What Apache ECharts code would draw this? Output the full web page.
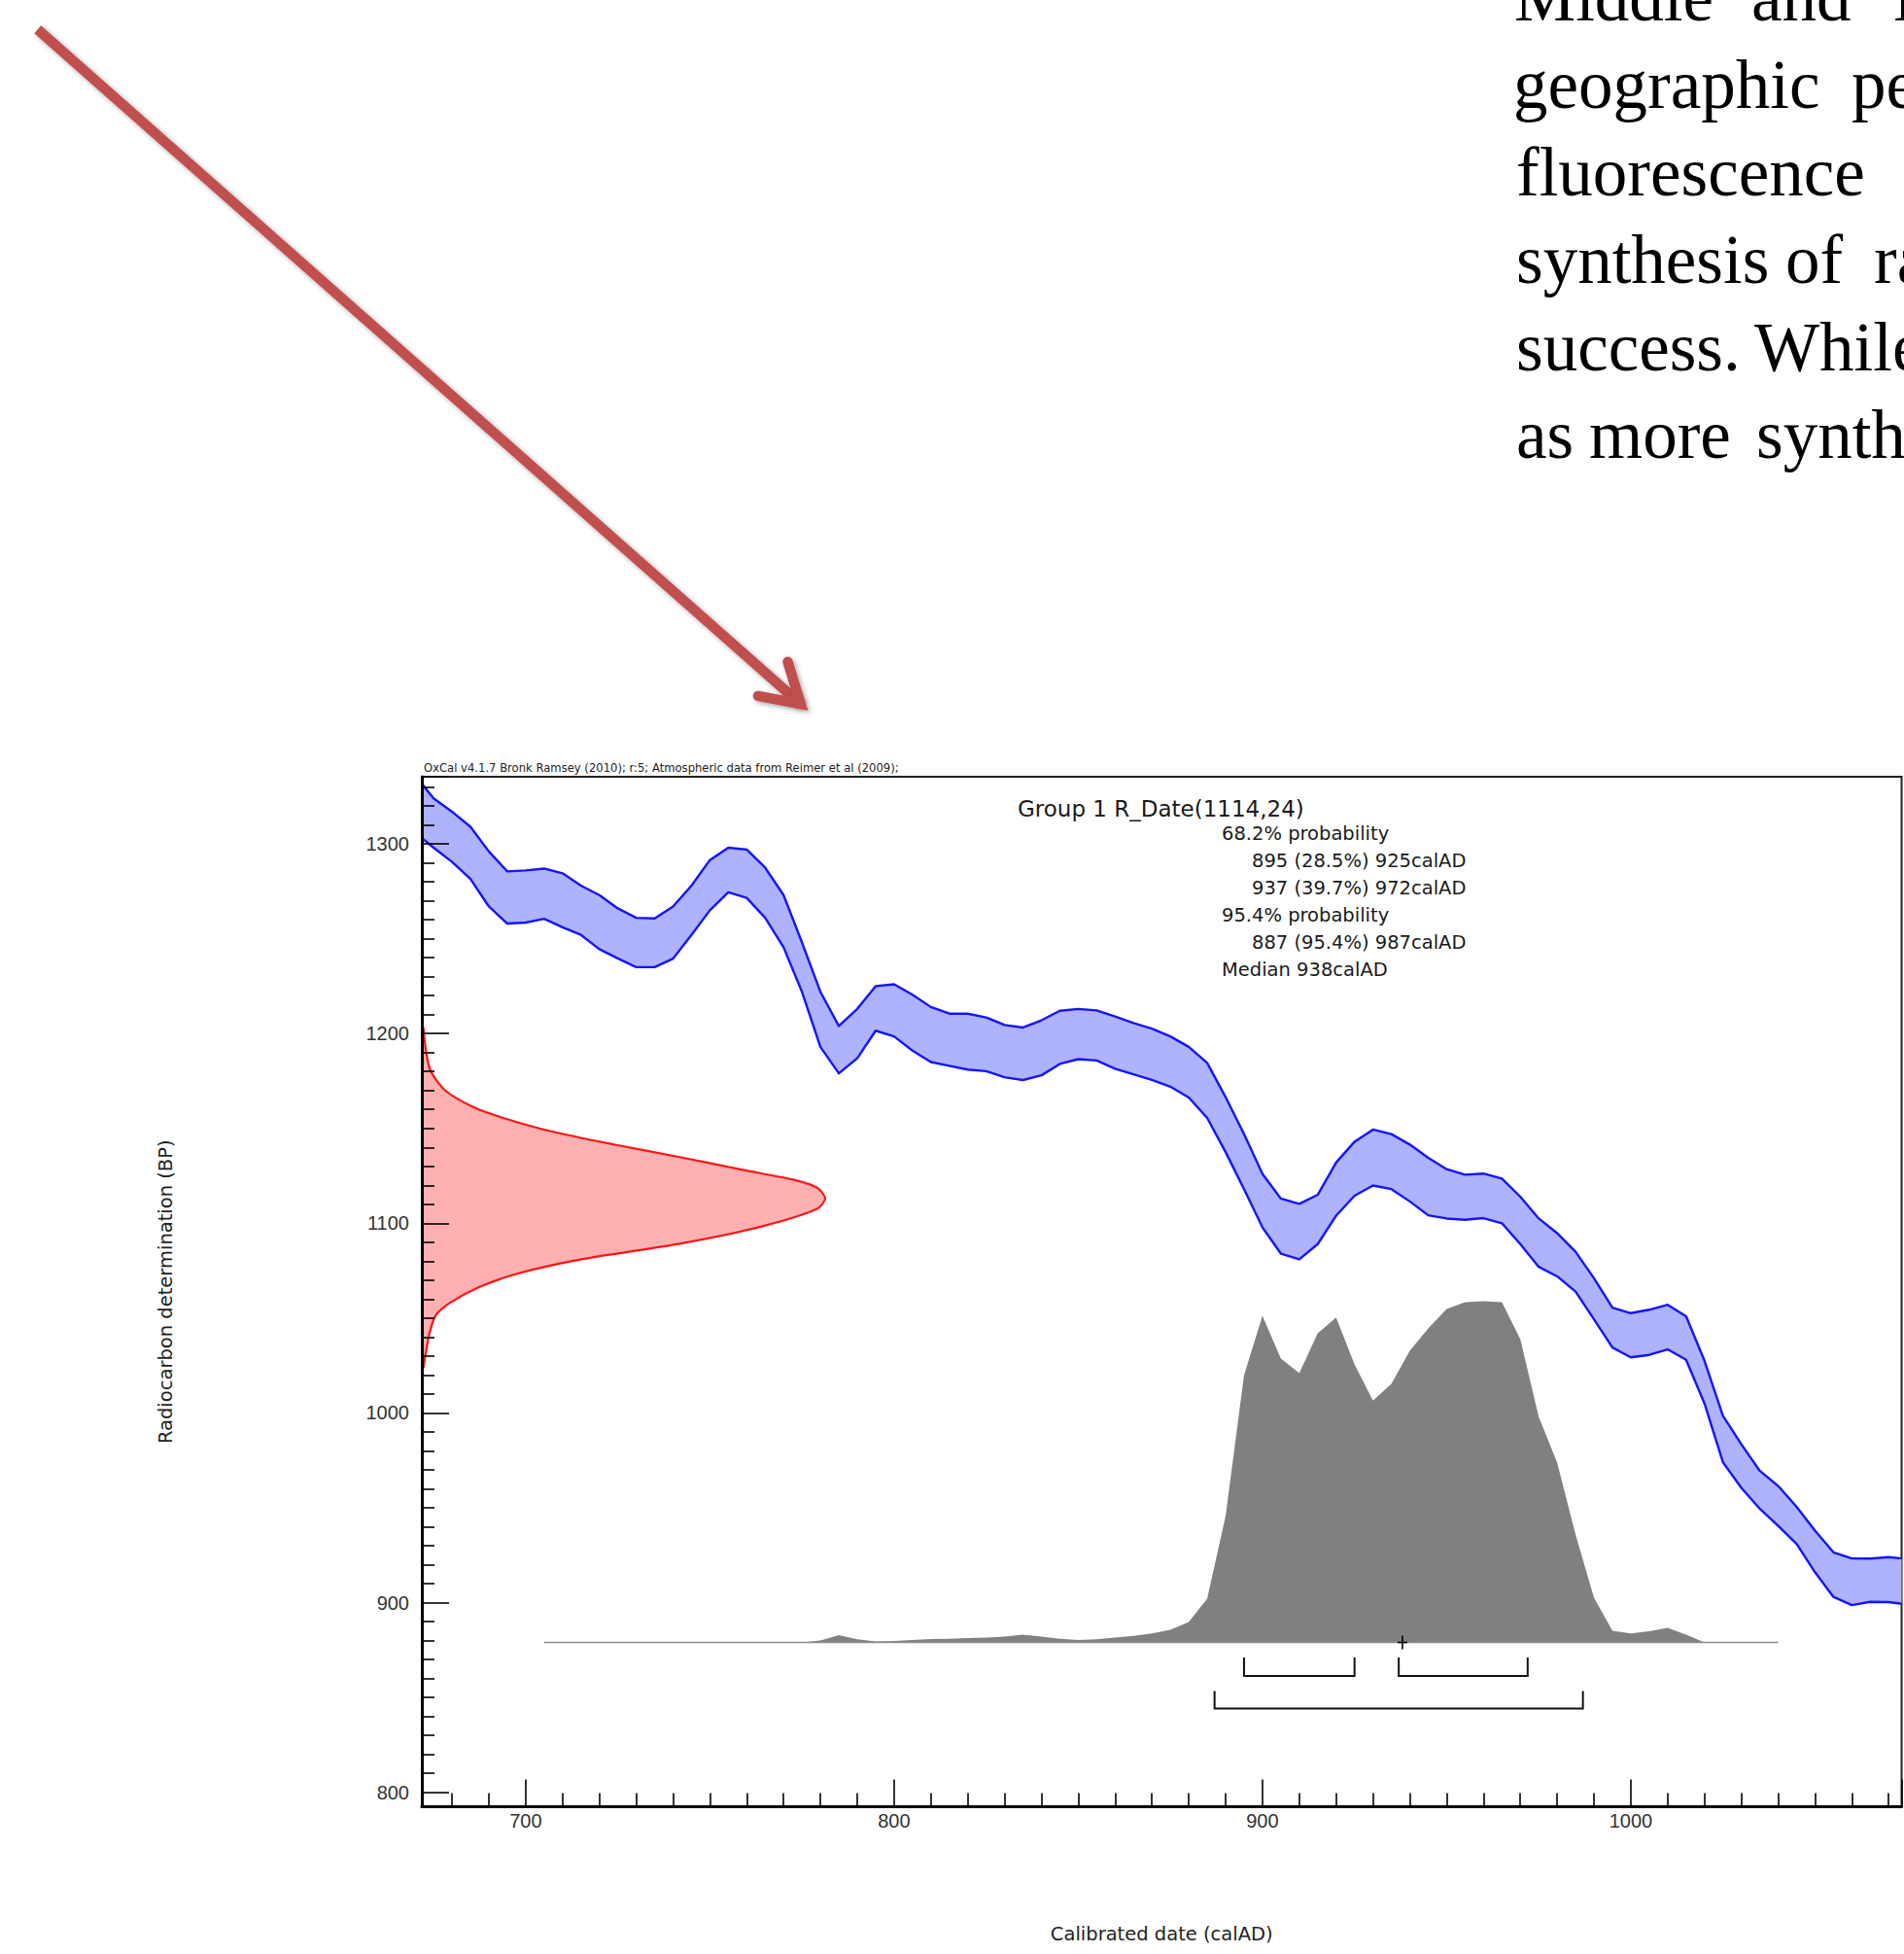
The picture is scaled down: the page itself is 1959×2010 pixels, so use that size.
<!DOCTYPE html>
<html><head><meta charset="utf-8">
<script src="https://cdn.jsdelivr.net/npm/echarts@6/dist/echarts.min.js"></script>
<style>html,body{margin:0;padding:0;background:#fff;overflow:hidden}#c{width:1959px;height:2010px}</style>
</head><body><div id="c"></div>
<script>
// ---- data ----
const CAL_YEARS = [670,675,680,685,690,695,700,705,710,715,720,725,730,735,740,745,750,755,760,765,770,775,780,785,790,795,800,805,810,815,820,825,830,835,840,845,850,855,860,865,870,875,880,885,890,895,900,905,910,915,920,925,930,935,940,945,950,955,960,965,970,975,980,985,990,995,1000,1005,1010,1015,1020,1025,1030,1035,1040,1045,1050,1055,1060,1065,1070,1075];
const CAL_UPPER = [1336,1324,1317,1309,1296,1285.5,1286,1287,1284.5,1278,1273,1266,1261,1260.7,1267,1278,1291.5,1298,1297,1287.5,1273,1248,1222,1204,1213,1225,1226,1220.5,1214,1210.5,1210.5,1208.5,1204.5,1203.2,1207,1212,1213,1212.2,1209,1205.5,1202.6,1198.5,1193,1184.5,1166.5,1147,1126,1113,1110.2,1115,1132,1143,1149.4,1147,1141.5,1134.5,1128.5,1125.6,1126.2,1123.5,1114,1102.5,1094.8,1085,1071,1055.5,1052.6,1054.4,1057,1051,1027.5,998.5,983.5,969.5,961.5,950.5,938,926.5,923.3,923.2,924,923];
const CAL_LOWER = [1306,1298,1290.5,1281.5,1267,1258,1258.5,1260.5,1256,1252,1244.5,1239.6,1235,1235,1239.5,1252,1265,1274.5,1271.5,1261,1245.5,1222,1193,1179,1187,1201.5,1198.5,1191,1185,1183,1181,1180.2,1177,1175.5,1178,1184,1186.5,1185.8,1181.5,1178.5,1175.6,1172,1166.3,1155.5,1137.5,1118,1097.8,1084,1081,1089,1104,1114.5,1119.9,1118,1111.5,1104.2,1102.5,1101.8,1102.7,1100,1089,1077,1072,1064,1049.4,1034.5,1029.3,1030.6,1033.5,1028,1005,974,960.5,949.5,940.5,931,916,903,898.7,900.4,900.3,899];

const RDATE_BP = [1203.3,1191.3,1180.2,1170,1161.4,1155.8,1148.6,1141.4,1134.9,1128,1123,1118.7,1113.1,1107.6,1098.2,1089.2,1081.1,1073.5,1066.3,1058.1,1051.3,1041,1023.9];
const RDATE_P  = [0.004,0.010,0.022,0.058,0.126,0.198,0.318,0.479,0.639,0.799,0.920,0.980,1.000,0.980,0.840,0.639,0.399,0.238,0.142,0.070,0.034,0.018,0.004];

const POST_YEARS = [705,710,715,720,725,730,735,740,745,750,755,760,765,770,775,780,785,790,795,800,805,810,815,820,825,830,835,840,845,850,855,860,865,870,875,880,885,890,895,900,905,910,915,920,925,930,935,940,945,950,955,960,965,970,975,980,985,990,995,1000,1005,1010,1015,1020,1025,1030,1035,1040];
const POST_P = [0,0,0,0,0,0,0,0,0,0,0,0,0,0,0,0.006,0.021,0.009,0.003,0.004,0.007,0.010,0.011,0.013,0.014,0.017,0.023,0.017,0.011,0.007,0.009,0.014,0.019,0.026,0.037,0.060,0.128,0.370,0.783,0.957,0.832,0.789,0.906,0.952,0.815,0.709,0.758,0.855,0.920,0.977,0.997,1.000,0.997,0.889,0.661,0.527,0.316,0.131,0.034,0.026,0.033,0.043,0.023,0,0,0,0,0];

const RANGES_68 = [[895,925],[937,972]];
const RANGES_95 = [[887,987]];
const MEDIAN = 938;

const X_TICKS = [700,800,900,1000];
const Y_TICKS = [800,900,1000,1100,1200,1300];

const X_NAME = 'Calibrated date (calAD)';
const Y_NAME = 'Radiocarbon determination (BP)';
const HEADER = 'OxCal v4.1.7 Bronk Ramsey (2010); r:5; Atmospheric data from Reimer et al (2009);';
const TITLE = 'Group 1 R_Date(1114,24)';
const INFO = [
  ['68.2% probability', 0],
  ['895 (28.5%) 925calAD', 1],
  ['937 (39.7%) 972calAD', 1],
  ['95.4% probability', 0],
  ['887 (95.4%) 987calAD', 1],
  ['Median 938calAD', 0]
];
const PARAGRAPH = [
  [22,  [['Middle',1558],['and',1802],['L',1948]]],
  [112, [['geographic',1557],['pe',1905]]],
  [202, [['fluorescence',1560]]],
  [292, [['synthesis',1560],['of',1837],['ra',1928]]],
  [382, [['success.',1560],['While',1805]]],
  [472, [['as',1560],['more',1635],['synth',1807]]]
];

// ---- styles ----
const BAND_FILL = '#afb2fd', BAND_EDGE = '#1414ff';
const RED_FILL = '#ffb1b1', RED_EDGE = '#ff1414';
const GREY = '#808080';
const ARROW = '#c0504d';

function clipOf(params) {
  const cs = params.coordSys;
  return {type:'rect', shape:{x:cs.x, y:cs.y, width:cs.width, height:cs.height}};
}

function bandItem(params, api) {
  if (params.dataIndex !== 0) return null;
  const up = CAL_YEARS.map((y,i)=>api.coord([y, CAL_UPPER[i]]));
  const lo = CAL_YEARS.map((y,i)=>api.coord([y, CAL_LOWER[i]]));
  return {type:'group', clipPath: clipOf(params), children:[
    {type:'polygon', shape:{points: up.concat(lo.slice().reverse())}, style:{fill:BAND_FILL, stroke:'none'}},
    {type:'polyline', shape:{points: up}, style:{fill:'none', stroke:BAND_EDGE, lineWidth:2.4, lineJoin:'round'}},
    {type:'polyline', shape:{points: lo}, style:{fill:'none', stroke:BAND_EDGE, lineWidth:2.4, lineJoin:'round'}}
  ]};
}

function redItem(params, api) {
  if (params.dataIndex !== 0) return null;
  const pts = RDATE_BP.map((bp,i)=>api.coord([RDATE_P[i], bp]));
  const a0 = api.coord([0, RDATE_BP[0]]);
  const a1 = api.coord([0, RDATE_BP[RDATE_BP.length-1]]);
  return {type:'group', clipPath: clipOf(params), children:[
    {type:'polygon', shape:{points: [a0].concat(pts, [a1])}, style:{fill:RED_FILL, stroke:'none'}},
    {type:'polyline', shape:{points: pts, smooth: 0.25}, style:{fill:'none', stroke:RED_EDGE, lineWidth:2.2, lineJoin:'round'}}
  ]};
}

function greyItem(params, api) {
  if (params.dataIndex !== 0) return null;
  const pts = POST_YEARS.map((y,i)=>api.coord([y, POST_P[i]]));
  const b0 = api.coord([POST_YEARS[0], 0]);
  const b1 = api.coord([POST_YEARS[POST_YEARS.length-1], 0]);
  return {type:'group', clipPath: clipOf(params), children:[
    {type:'polygon', shape:{points: [b0].concat(pts, [b1])}, style:{fill:GREY, stroke:'none'}},
    {type:'line', shape:{x1:b0[0], y1:b0[1], x2:b1[0], y2:b1[1]}, style:{stroke:'#8c8c8c', lineWidth:1.6}}
  ]};
}

function bracketItem(params, api) {
  const s = api.coord([api.value(0), 0]);
  const e = api.coord([api.value(1), 0]);
  const lvl = api.value(2);
  const top = s[1] + (lvl === 0 ? 15.5 : 50);
  const bot = s[1] + (lvl === 0 ? 34.5 : 68);
  return {type:'polyline', shape:{points:[[s[0],top],[s[0],bot],[e[0],bot],[e[0],top]]},
    style:{fill:'none', stroke:'#111', lineWidth:2}};
}

function medianItem(params, api) {
  const p = api.coord([api.value(0), api.value(1)]);
  return {type:'group', children:[
    {type:'line', shape:{x1:p[0], y1:p[1]-7, x2:p[0], y2:p[1]+7}, style:{stroke:'#000', lineWidth:1.6}},
    {type:'line', shape:{x1:p[0]-5, y1:p[1], x2:p[0]+5, y2:p[1]}, style:{stroke:'#000', lineWidth:1.6}}
  ]};
}

function txt(x, baseline, text, size, family, color) {
  return {type:'text', x:x, y: baseline - 0.346*size, silent:true,
    style:{text:text, fontSize:size, fontFamily:family, fill:color, verticalAlign:'middle', align:'left'}};
}

const graphics = [];
graphics.push(txt(436, 794.5, HEADER, 11.6, 'DejaVu Sans', '#222'));
graphics.push(txt(1047, 839.5, TITLE, 23, 'DejaVu Sans', '#1a1a1a'));
INFO.forEach((r,i)=>{
  graphics.push(txt(r[1] ? 1288 : 1257, 864 + 28*i, r[0], 19.5, 'DejaVu Sans', '#1a1a1a'));
});
PARAGRAPH.forEach(line=>{
  line[1].forEach(w=>graphics.push(txt(w[1], line[0], w[0], 71, 'Liberation Serif', '#000')));
});
const shadow = {shadowBlur:5, shadowColor:'rgba(0,0,0,0.35)', shadowOffsetX:2, shadowOffsetY:2};
graphics.push({type:'line', silent:true, shape:{x1:38.7, y1:30.3, x2:823.8, y2:724.2},
  style:Object.assign({stroke:ARROW, lineWidth:10.5, lineCap:'butt'}, shadow)});
graphics.push({type:'polyline', silent:true, shape:{points:[[810.5,680.8],[823.8,724.2],[779.9,715.9]]},
  style:Object.assign({fill:'none', stroke:ARROW, lineWidth:10.5, lineCap:'round', lineJoin:'miter', miterLimit:10}, shadow)});

const plain = v => String(v);
const tickStyle = {color:'#000', width:1.6};
const option = {
  animation:false,
  backgroundColor:'#fff',
  grid:{left:434, top:799, right:2.5, bottom:151.5, show:true, borderColor:'#222', borderWidth:2, backgroundColor:'transparent'},
  xAxis:[{
    type:'value', min:671.8, max:1073.5, position:'bottom', z:5,
    axisLine:{show:true, onZero:false, lineStyle:{color:'#000', width:3}},
    axisTick:{show:true, inside:true, length:28, lineStyle:tickStyle},
    minorTick:{show:true, splitNumber:10, length:14, lineStyle:tickStyle},
    axisLabel:{customValues:X_TICKS, formatter:plain, margin:4, fontSize:20, fontFamily:'Liberation Sans', color:'#333'},
    splitLine:{show:false}, minorSplitLine:{show:false},
    name:X_NAME, nameLocation:'middle', nameGap:121,
    nameTextStyle:{fontSize:19.5, fontFamily:'DejaVu Sans', color:'#222'}
  },{
    type:'value', min:0, max:3.669, show:false, position:'top',
    axisLine:{onZero:false}, splitLine:{show:false}
  }],
  yAxis:[{
    type:'value', min:792.4, max:1335.4, position:'left', z:5,
    axisLine:{show:true, onZero:false, lineStyle:{color:'#000', width:3}},
    axisTick:{show:true, inside:true, length:28, lineStyle:tickStyle},
    minorTick:{show:true, splitNumber:10, length:13, lineStyle:tickStyle},
    axisLabel:{customValues:Y_TICKS, formatter:plain, margin:13, fontSize:20, fontFamily:'Liberation Sans', color:'#333'},
    splitLine:{show:false}, minorSplitLine:{show:false},
    name:Y_NAME, nameLocation:'middle', nameGap:254, nameRotate:90,
    nameTextStyle:{fontSize:19.5, fontFamily:'DejaVu Sans', color:'#222'}
  },{
    type:'value', min:-0.4815, max:2.537, show:false, position:'right',
    axisLine:{onZero:false}, splitLine:{show:false}
  }],
  series:[
    {type:'custom', name:'calibration', xAxisIndex:0, yAxisIndex:0, clip:true, silent:true, z:2,
     renderItem:bandItem, data:[[CAL_YEARS[0], CAL_UPPER[0]]]},
    {type:'custom', name:'R_Date', xAxisIndex:1, yAxisIndex:0, clip:true, silent:true, z:2,
     renderItem:redItem, data:[[RDATE_P[0], RDATE_BP[0]]]},
    {type:'custom', name:'calibrated', xAxisIndex:0, yAxisIndex:1, clip:true, silent:true, z:2,
     renderItem:greyItem, data:[[POST_YEARS[0], POST_P[0]]]},
    {type:'custom', name:'ranges', xAxisIndex:0, yAxisIndex:1, silent:true, z:3,
     renderItem:bracketItem,
     data: RANGES_68.map(r=>[r[0], r[1], 0]).concat(RANGES_95.map(r=>[r[0], r[1], 1]))},
    {type:'custom', name:'median', xAxisIndex:0, yAxisIndex:1, silent:true, z:3,
     renderItem:medianItem, data:[[MEDIAN, 0]]}
  ],
  graphic: graphics
};
const chart = echarts.init(document.getElementById('c'), null, {renderer:'svg', width:1959, height:2010});
chart.setOption(option);
</script>
</body></html>
